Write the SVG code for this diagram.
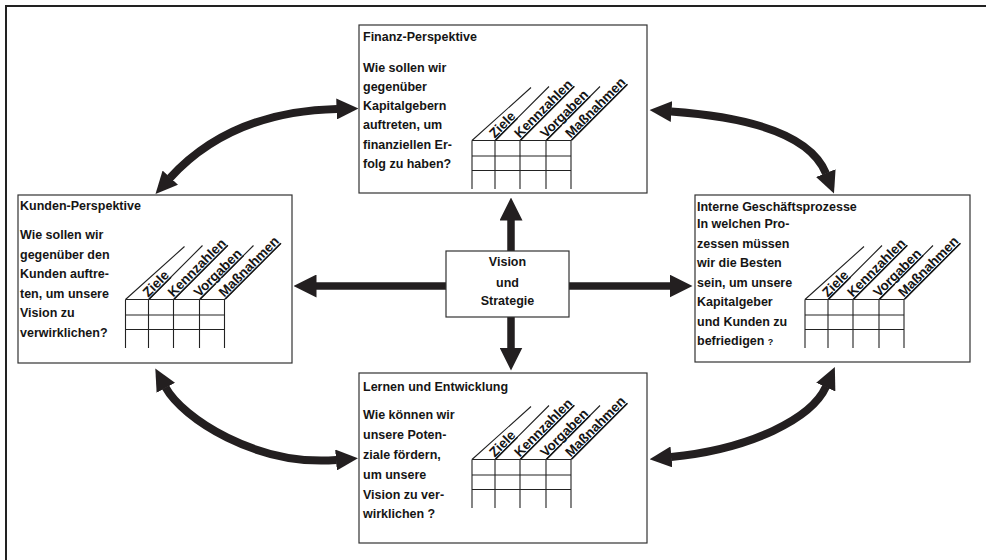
<svg xmlns="http://www.w3.org/2000/svg" xmlns:xlink="http://www.w3.org/1999/xlink" width="986" height="560" viewBox="0 0 986 560">
<style>
.box{fill:#fff;stroke:#333;stroke-width:1.2}
.t{font-family:"Liberation Sans",Arial,Helvetica,sans-serif;font-weight:bold;font-size:12.5px;fill:#151515}
.lbl{font-family:"Liberation Sans",Arial,Helvetica,sans-serif;font-weight:bold;font-size:13.5px;fill:#151515;text-decoration:underline}
.q{font-size:9px}
.arr{fill:none;stroke:#231f20;stroke-width:8}
.sarr{fill:none;stroke:#231f20;stroke-width:7.5}
.frame{fill:none;stroke:#222;stroke-width:2}
</style>
<defs>
<marker id="hc" markerUnits="userSpaceOnUse" markerWidth="22" markerHeight="21" viewBox="0 0 22 21" refX="0.5" refY="10.5" orient="auto-start-reverse"><path d="M0,0 L22,10.5 L0,21 z" fill="#231f20"/></marker>
<marker id="hs" markerUnits="userSpaceOnUse" markerWidth="23" markerHeight="23" viewBox="0 0 23 23" refX="0.5" refY="11.5" orient="auto"><path d="M0,0 L23,11.5 L0,23 z" fill="#231f20"/></marker>
<path id="grid" d="M0,0H99 M0,15.5H99 M0,30H99 M0,0V48.5 M23,0V48.5 M48,0V48.5 M74,0V48.5 M99,0V48.5 M0,0L59,-53 M23,0L77,-54 M48,0L102,-54 M74,0L128,-54 M99,0L155,-56" fill="none" stroke="#222" stroke-width="1.1"/>
</defs>

<path class="frame" d="M6,560 V6 H986"/>

<g id="connectors">
<line class="sarr" x1="511" y1="251" x2="511" y2="220" marker-end="url(#hs)"/>
<line class="sarr" x1="511" y1="317" x2="511" y2="348" marker-end="url(#hs)"/>
<line class="sarr" x1="446" y1="286" x2="316" y2="286" marker-end="url(#hs)"/>
<line class="sarr" x1="569" y1="286" x2="670" y2="286" marker-end="url(#hs)"/>
<path class="arr" d="M170,178 Q230.7,111.5 337,109" marker-start="url(#hc)" marker-end="url(#hc)"/>
<path class="arr" d="M671,111.5 Q805,121 826,173.5" marker-start="url(#hc)" marker-end="url(#hc)"/>
<path class="arr" d="M165.6,387.4 C182.4,418.2 256.5,466.4 336.5,460" marker-start="url(#hc)" marker-end="url(#hc)"/>
<path class="arr" d="M671,457 C751,449 811.6,418.6 826,386.7" marker-start="url(#hc)" marker-end="url(#hc)"/>
</g>

<g id="finanz">
<rect class="box" x="359" y="25" width="288" height="168"/>
<text class="t" x="363" y="40.5">Finanz-Perspektive</text>
<text class="t"><tspan x="363" y="72.3">Wie sollen wir</tspan><tspan x="363" y="91.3">gegenüber</tspan><tspan x="363" y="110.4">Kapitalgebern</tspan><tspan x="363" y="129.4">auftreten, um</tspan><tspan x="363" y="148.5">finanziellen Er-</tspan><tspan x="363" y="167.5">folg zu haben?</tspan></text>
<g transform="translate(472,140.5)">
<use xlink:href="#grid" href="#grid"/>
<text class="lbl" transform="translate(23,0) rotate(-45)" x="1" y="-1.5">Ziele</text>
<text class="lbl" transform="translate(48,0) rotate(-45)" x="1" y="-1.5">Kennzahlen</text>
<text class="lbl" transform="translate(74,0) rotate(-45)" x="1" y="-1.5">Vorgaben</text>
<text class="lbl" transform="translate(99,0) rotate(-45)" x="1" y="-1.5">Maßnahmen</text>
</g>
</g>

<g id="kunden">
<rect class="box" x="18" y="195" width="274" height="168"/>
<text class="t" x="20" y="210">Kunden-Perspektive</text>
<text class="t"><tspan x="20" y="239">Wie sollen wir</tspan><tspan x="20" y="258.5">gegenüber den</tspan><tspan x="20" y="278">Kunden auftre-</tspan><tspan x="20" y="297.6">ten, um unsere</tspan><tspan x="20" y="317.1">Vision zu</tspan><tspan x="20" y="336.7">verwirklichen?</tspan></text>
<g transform="translate(125.5,299.5)">
<use xlink:href="#grid" href="#grid"/>
<text class="lbl" transform="translate(23,0) rotate(-45)" x="1" y="-1.5">Ziele</text>
<text class="lbl" transform="translate(48,0) rotate(-45)" x="1" y="-1.5">Kennzahlen</text>
<text class="lbl" transform="translate(74,0) rotate(-45)" x="1" y="-1.5">Vorgaben</text>
<text class="lbl" transform="translate(99,0) rotate(-45)" x="1" y="-1.5">Maßnahmen</text>
</g>
</g>

<g id="interne">
<rect class="box" x="695" y="195" width="275" height="167"/>
<text class="t" x="697" y="210.7">Interne Geschäftsprozesse</text>
<text class="t"><tspan x="697" y="228.3">In welchen Pro-</tspan><tspan x="697" y="247.8">zessen müssen</tspan><tspan x="697" y="267.2">wir die Besten</tspan><tspan x="697" y="286.7">sein, um unsere</tspan><tspan x="697" y="306.1">Kapitalgeber</tspan><tspan x="697" y="325.6">und Kunden zu</tspan><tspan x="697" y="345">befriedigen <tspan class="q">?</tspan></tspan></text>
<g transform="translate(805,299.5)">
<use xlink:href="#grid" href="#grid"/>
<text class="lbl" transform="translate(23,0) rotate(-45)" x="1" y="-1.5">Ziele</text>
<text class="lbl" transform="translate(48,0) rotate(-45)" x="1" y="-1.5">Kennzahlen</text>
<text class="lbl" transform="translate(74,0) rotate(-45)" x="1" y="-1.5">Vorgaben</text>
<text class="lbl" transform="translate(99,0) rotate(-45)" x="1" y="-1.5">Maßnahmen</text>
</g>
</g>

<g id="lernen">
<rect class="box" x="359" y="373" width="288" height="170"/>
<text class="t" x="363" y="390.7">Lernen und Entwicklung</text>
<text class="t"><tspan x="363" y="419.3">Wie können wir</tspan><tspan x="363" y="439.1">unsere Poten-</tspan><tspan x="363" y="458.9">ziale fördern,</tspan><tspan x="363" y="478.7">um unsere</tspan><tspan x="363" y="498.5">Vision zu ver-</tspan><tspan x="363" y="518.3">wirklichen ?</tspan></text>
<g transform="translate(472,459.5)">
<use xlink:href="#grid" href="#grid"/>
<text class="lbl" transform="translate(23,0) rotate(-45)" x="1" y="-1.5">Ziele</text>
<text class="lbl" transform="translate(48,0) rotate(-45)" x="1" y="-1.5">Kennzahlen</text>
<text class="lbl" transform="translate(74,0) rotate(-45)" x="1" y="-1.5">Vorgaben</text>
<text class="lbl" transform="translate(99,0) rotate(-45)" x="1" y="-1.5">Maßnahmen</text>
</g>
</g>

<g id="vision">
<rect class="box" x="446" y="251" width="123" height="66"/>
<text class="t" text-anchor="middle"><tspan x="507.5" y="266">Vision</tspan><tspan x="507.5" y="286.5">und</tspan><tspan x="507.5" y="305">Strategie</tspan></text>
</g>
</svg>
